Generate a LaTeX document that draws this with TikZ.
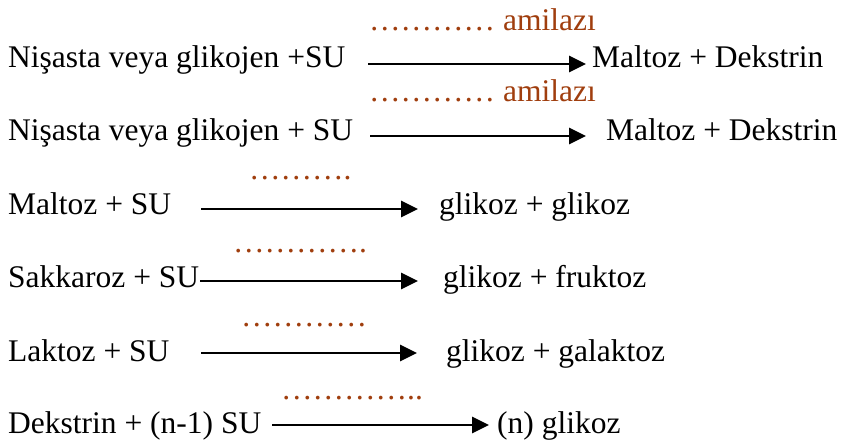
\documentclass[tikz,border=0pt]{standalone}
\usepackage{fontspec}
\setmainfont{Liberation Serif}
\usetikzlibrary{arrows.meta}
\definecolor{enzim}{RGB}{160,62,14}

\begin{document}
\begin{tikzpicture}[x=1pt,y=-1pt,
		formul/.style={anchor=base west,inner sep=0pt,font=\fontsize{31.5}{36}\selectfont},
		enzimadi/.style={formul,text=enzim},
		ok/.style={line width=2.8pt,-{Triangle[length=17pt,width=16pt]}}]
		\useasboundingbox (0,0) rectangle (842,444);

		\node[formul] (nisasta1) at (8,67) {Nişasta veya glikojen +SU};
		\node[formul] (urun1) at (592,67) {Maltoz + Dekstrin};
		\node[enzimadi] (enzim1) at (369,31) {………… amilazı};

		\node[formul] (nisasta2) at (8,140) {Nişasta veya glikojen + SU};
		\node[formul] (urun2) at (606,140) {Maltoz + Dekstrin};
		\node[enzimadi] (enzim2) at (369,101) {………… amilazı};

		\node[formul] (maltoz) at (8,214) {Maltoz + SU};
		\node[formul] (urun3) at (439,214) {glikoz + glikoz};
		\node[enzimadi] (enzim3) at (249,179) {……….};

		\node[formul] (sakkaroz) at (8,287) {Sakkaroz + SU};
		\node[formul] (urun4) at (443,287) {glikoz + fruktoz};
		\node[enzimadi] (enzim4) at (233,252) {………….};

		\node[formul] (laktoz) at (8,361) {Laktoz + SU};
		\node[formul] (urun5) at (446,361) {glikoz + galaktoz};
		\node[enzimadi] (enzim5) at (241,326) {…………};

		\node[formul] (dekstrin) at (8,433) {Dekstrin + (n-1) SU};
		\node[formul] (urun6) at (497,433) {(n) glikoz};
		\node[enzimadi] (enzim6) at (281,399) {…………..};

		%%% OKLAR
		\coordinate (b1) at (368,64);  \coordinate (s1) at (586,64);
		\coordinate (b2) at (370,136); \coordinate (s2) at (586,136);
		\coordinate (b3) at (201,209); \coordinate (s3) at (418,209);
		\coordinate (b4) at (200,281); \coordinate (s4) at (418,281);
		\coordinate (b5) at (201,353); \coordinate (s5) at (417,353);
		\coordinate (b6) at (272,425); \coordinate (s6) at (489,425);
		\foreach \i in {1,...,6}
			\draw[ok] (b\i) -- (s\i);
	\end{tikzpicture}
\end{document}
